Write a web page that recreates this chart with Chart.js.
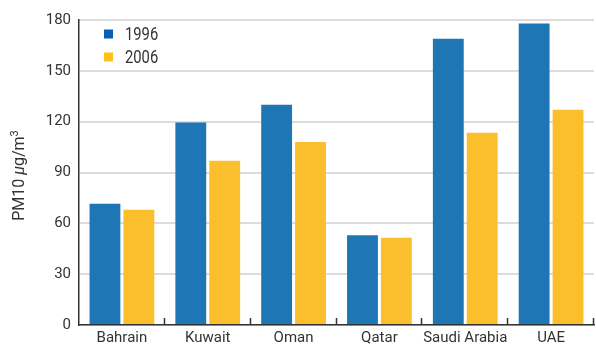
<!DOCTYPE html>
<html lang="en">
<head>
  <meta charset="UTF-8" />
  <title>PM10 concentrations</title>
  <style>
    html, body { margin: 0; padding: 0; background: #fff; }
    #wrap { width: 596px; height: 347px; position: relative; }
  </style>
</head>
<body>
  <div id="wrap"><canvas id="pmChart"></canvas></div>

  <script src="https://cdn.jsdelivr.net/npm/chart.js"></script>
  <script>
    // Countries and PM10 levels (µg/m3)
    const countries = ['Bahrain', 'Kuwait', 'Oman', 'Qatar', 'Saudi Arabia', 'UAE'];
    const pm1996 = [71.5, 119.5, 130, 53, 169, 178];
    const pm2006 = [68, 97, 108, 51.5, 113.5, 127];
    const yTicks = [0, 30, 60, 90, 120, 150, 180];

    const BLUE = '#1f76b4';
    const YELLOW = '#fbbe2c';
    const FONT = 'Roboto, "Liberation Sans", sans-serif';

    // Legend in the top-left corner of the plot area
    const cornerLegend = {
      id: 'cornerLegend',
      afterDraw(chart) {
        const { ctx, chartArea } = chart;
        const swatches = ['#0a5fb4', '#fdc117'];
        ctx.save();
        chart.data.datasets.forEach((ds, i) => {
          const y = chartArea.top + 14 + i * 23;
          ctx.fillStyle = swatches[i];
          ctx.fillRect(chartArea.left + 25, y - 4.5, 9, 9);
          ctx.fillStyle = '#333';
          ctx.font = '18px ' + FONT;
          ctx.textBaseline = 'middle';
          ctx.translate(chartArea.left + 46, y + 1);
          ctx.scale(0.82, 1);
          ctx.fillText(ds.label, 0, 0);
          ctx.setTransform(1, 0, 0, 1, 0, 0);
        });
        ctx.restore();
      }
    };

    // Small inward tick marks between categories, plus the rotated axis title
    const axisExtras = {
      id: 'axisExtras',
      afterDraw(chart) {
        const { ctx, chartArea } = chart;
        const x = chart.scales.x;
        const step = (x.right - x.left) / countries.length;
        ctx.save();
        ctx.strokeStyle = '#333';
        ctx.lineWidth = 1.5;
        for (let i = 1; i <= countries.length; i++) {
          const px = Math.round(x.left + i * step) - 0.5;
          ctx.beginPath();
          ctx.moveTo(px, chartArea.bottom);
          ctx.lineTo(px, chartArea.bottom - 7);
          ctx.stroke();
        }

        // "PM10 µg/m3" with italic µ and superscript 3
        const parts = [
          { t: 'PM10 ', f: '16px ' + FONT, dy: 0 },
          { t: 'μ', f: 'italic 16px ' + FONT, dy: 0 },
          { t: 'g/m', f: '16px ' + FONT, dy: 0 },
          { t: '3', f: '11px ' + FONT, dy: -5 }
        ];
        let total = 0;
        parts.forEach(p => { ctx.font = p.f; total += ctx.measureText(p.t).width; });
        ctx.translate(20, (chartArea.top + chartArea.bottom) / 2 + 3);
        ctx.rotate(-Math.PI / 2);
        ctx.fillStyle = '#333';
        ctx.textBaseline = 'middle';
        let cx = -total / 2;
        parts.forEach(p => {
          ctx.font = p.f;
          ctx.fillText(p.t, cx, p.dy);
          cx += ctx.measureText(p.t).width;
        });
        ctx.restore();
      }
    };

    new Chart(document.getElementById('pmChart'), {
      type: 'bar',
      data: {
        labels: countries,
        datasets: [
          { label: '1996', data: pm1996, backgroundColor: BLUE },
          { label: '2006', data: pm2006, backgroundColor: YELLOW }
        ]
      },
      options: {
        responsive: true,
        maintainAspectRatio: false,
        animation: false,
        categoryPercentage: 0.79,
        barPercentage: 0.91,
        layout: { padding: { top: 20, right: 2, bottom: 0, left: 0 } },
        plugins: {
          legend: { display: false },
          tooltip: { enabled: false }
        },
        scales: {
          x: {
            grid: { display: false, drawTicks: false },
            border: { color: '#333', width: 1.5 },
            ticks: {
              color: '#333', font: { family: FONT, size: 15 }, padding: 4,
              maxRotation: 0, autoSkip: false
            },
            afterFit(scale) { scale.height = 22; }
          },
          y: {
            min: 0,
            max: 180,
            afterBuildTicks(scale) { scale.ticks = yTicks.map(v => ({ value: v })); },
            grid: { color: '#dcdcdc', lineWidth: 2, drawTicks: false },
            border: { color: '#333', width: 1.5 },
            ticks: { color: '#333', font: { family: FONT, size: 15 }, padding: 8 },
            afterFit(scale) { scale.width = 79; }
          }
        }
      },
      plugins: [cornerLegend, axisExtras]
    });
  </script>
</body>
</html>
